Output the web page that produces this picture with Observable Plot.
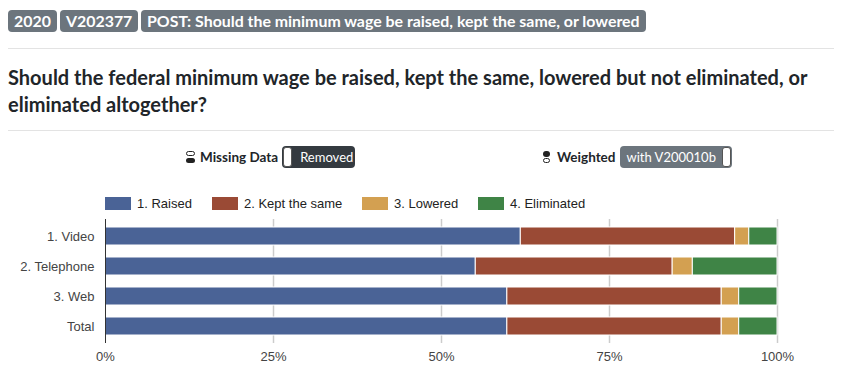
<!DOCTYPE html>
<html>
<head>
<meta charset="utf-8">
<script src="https://cdn.jsdelivr.net/npm/d3@7"></script>
<script src="https://cdn.jsdelivr.net/npm/@observablehq/plot@0.6"></script>
<style>
  html, body { margin: 0; padding: 0; background: #fff; width: 842px; height: 375px; overflow: hidden; }
  body { position: relative; font-family: "Lato", "Open Sans", sans-serif; color: #212529; }
  .badge { position: absolute; top: 10px; height: 22px; line-height: 22px; background: #6c757d; color: #fff;
    font-family: "Lato", "Open Sans", sans-serif; font-weight: 700; font-size: 15.9px; border-radius: 4px; padding: 0 6px; white-space: nowrap; }
  .hr { position: absolute; left: 8px; width: 826px; height: 1px; background: #e3e3e3; }
  .title { position: absolute; left: 8px; top: 64px; width: 830px; font-size: 20px; font-weight: 700; line-height: 27px; color: #212529; }
  .ctl { position: absolute; top: 146px; height: 22px; line-height: 22px; font-size: 13.5px; font-weight: 700; white-space: nowrap; display: flex; align-items: center; }
  .btn { height: 22px; line-height: 22px; border-radius: 4px; color: #fff; font-weight: 400; font-size: 13px; display: flex; align-items: center; margin-left: 4px; }
  .knob { flex: none; width: 7px; height: 18px; background: #fff; border: 1px solid #555; border-radius: 3px; }
  .icon { display: inline-block; width: 9px; height: 12px; margin-right: 5px; position: relative; }
  .icon span { position: absolute; left: 0; width: 9px; height: 5px; border-radius: 3px; }
  .legend { position: absolute; top: 196px; left: 105px; font-family: "Liberation Sans", Arial, sans-serif; font-size: 13px; color: #222; }
  .sw { position: absolute; top: 1px; width: 26px; height: 13px; }
  .lt { position: absolute; top: 0; white-space: nowrap; line-height: 15px; }
  #chart { position: absolute; left: 0; top: 210px; }
</style>
</head>
<body>
<div class="badge" style="left:8px">2020</div>
<div class="badge" style="left:60px">V202377</div>
<div class="badge" style="left:141px">POST: Should the minimum wage be raised, kept the same, or lowered</div>
<div class="hr" style="top:48px"></div>
<div class="title">Should the federal minimum wage be raised, kept the same, lowered but not eliminated, or eliminated altogether?</div>
<div class="hr" style="top:130px"></div>
<div class="ctl" style="left:186px"><span class="icon"><span style="top:0;border:1px solid #222;height:3px;width:7px"></span><span style="top:7px;background:#222"></span></span>Missing Data
  <div class="btn" style="background:#343a40;width:73px"><div class="knob" style="margin-left:1px"></div><span style="margin-left:8px">Removed</span></div></div>
<div class="ctl" style="left:543px"><span class="icon"><span style="top:0;background:#222;width:7px;border-radius:4px;height:6px"></span><span style="top:7px;border:1px solid #222;height:3px;width:5px"></span></span>Weighted
  <div class="btn" style="background:#6c757d;padding-right:1px"><span style="margin-left:7px">with V200010b</span><div class="knob" style="margin-left:6px"></div></div></div>
<div class="legend" id="legend"></div>
<div id="chart"></div>
<script>
const categories = ["1. Video", "2. Telephone", "3. Web", "Total"];
const responses = ["1. Raised", "2. Kept the same", "3. Lowered", "4. Eliminated"];
const raised = [61.8, 55.1, 59.8, 59.8];
const keptSame = [31.9, 29.3, 31.9, 31.9];
const lowered = [2.1, 3.0, 2.6, 2.6];
const eliminated = [4.2, 12.6, 5.7, 5.7];
const colors = ["#4a6396", "#9a4a35", "#d3a051", "#3f8446"];
const xTicks = [0, 0.25, 0.5, 0.75, 1];

const series = [raised, keptSame, lowered, eliminated];
const rows = [];
categories.forEach((c, i) => {
  const total = series.reduce((s, a) => s + a[i], 0);
  responses.forEach((r, j) => rows.push({mode: c, response: r, share: series[j][i] / total}));
});

const chart = Plot.plot({
  width: 842,
  height: 165,
  marginTop: 9,
  marginBottom: 32,
  marginLeft: 105,
  marginRight: 65,
  x: {domain: [0, 1]},
  y: {domain: categories, paddingInner: 0.39, paddingOuter: 0.2},
  color: {domain: responses, range: colors},
  style: {fontFamily: "'Liberation Sans', Arial, sans-serif", fontSize: "13px", color: "#444"},
  marks: [
    Plot.ruleX(xTicks.slice(1), {stroke: "#cccccc", strokeWidth: 1.5}),
    Plot.barX(rows, Plot.stackX({y: "mode", x: "share", fill: "response", stroke: "white", strokeWidth: 1})),
    Plot.ruleX([0], {stroke: "#333", strokeWidth: 1}),
    Plot.axisX({ticks: xTicks, tickFormat: d3.format(".0%"), tickSize: 0, tickPadding: 8, label: null, fill: "#444"}),
    Plot.axisY({tickSize: 0, tickPadding: 11, label: null, fill: "#444"})
  ]
});
document.getElementById("chart").appendChild(chart);

const legendPos = [0, 107, 257, 373];
const lg = document.getElementById("legend");
responses.forEach((r, i) => {
  const sw = document.createElement("div");
  sw.className = "sw"; sw.style.left = legendPos[i] + "px"; sw.style.background = colors[i];
  const t = document.createElement("div");
  t.className = "lt"; t.style.left = (legendPos[i] + 32) + "px"; t.textContent = r;
  lg.appendChild(sw); lg.appendChild(t);
});
</script>
</body>
</html>
